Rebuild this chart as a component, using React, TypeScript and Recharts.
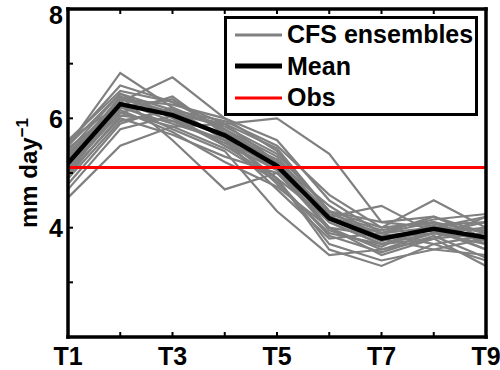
import React from "react";
import { LineChart, Line, XAxis, YAxis, Legend } from "recharts";

const periods = ["T1", "T2", "T3", "T4", "T5", "T6", "T7", "T8", "T9"];

// observed value (flat)
const obs = [5.1, 5.1, 5.1, 5.1, 5.1, 5.1, 5.1, 5.1, 5.1];

// ensemble mean
const mean = [5.18, 6.26, 6.06, 5.69, 5.13, 4.17, 3.8, 3.98, 3.82];

// individual CFS members
const ensembles = [
  [5.5, 6.83, 6.2, 5.8, 5.3, 4.2, 3.9, 4.1, 3.9],
  [5.3, 6.3, 6.75, 6.0, 5.4, 4.3, 3.8, 3.9, 3.7],
  [4.55, 5.5, 5.85, 5.9, 6.0, 5.35, 4.1, 4.0, 3.95],
  [5.6, 6.5, 6.3, 5.9, 5.2, 4.1, 3.7, 3.9, 3.8],
  [5.2, 6.4, 5.6, 4.7, 5.0, 4.0, 3.6, 3.8, 4.2],
  [5.1, 6.1, 6.4, 5.7, 4.8, 3.9, 3.7, 4.0, 3.6],
  [5.4, 6.45, 6.0, 5.5, 5.1, 4.2, 4.4, 3.9, 4.1],
  [5.0, 6.2, 5.9, 5.6, 4.9, 3.6, 3.3, 3.7, 3.4],
  [5.3, 6.35, 6.1, 5.85, 5.35, 4.3, 4.0, 4.5, 4.0],
  [4.8, 5.9, 6.2, 5.6, 4.7, 3.8, 3.9, 4.2, 3.9],
  [5.55, 6.6, 6.3, 5.8, 5.2, 4.4, 3.8, 3.6, 3.5],
  [5.2, 6.25, 5.8, 5.4, 4.3, 3.5, 3.6, 3.9, 4.0],
  [4.9, 5.95, 6.15, 5.95, 5.5, 4.6, 4.0, 4.1, 3.7],
  [5.35, 6.3, 5.95, 5.6, 5.1, 4.0, 3.5, 3.8, 3.3],
  [5.45, 6.2, 6.35, 5.75, 5.2, 4.2, 3.9, 4.0, 4.2],
  [5.0, 6.0, 5.7, 5.3, 5.0, 4.1, 3.7, 3.8, 3.9],
  [5.25, 6.4, 6.1, 5.9, 5.45, 4.3, 4.1, 4.2, 3.8],
  [4.7, 5.8, 6.05, 5.5, 4.9, 3.7, 3.4, 3.6, 3.8],
  [5.5, 6.45, 6.15, 5.65, 4.9, 4.15, 3.75, 4.05, 4.1],
  [5.15, 6.15, 5.75, 5.2, 4.75, 4.0, 3.85, 3.95, 3.6],
  [5.35, 6.35, 6.25, 6.0, 5.6, 4.5, 3.9, 3.7, 3.85],
  [4.95, 6.05, 5.95, 5.55, 5.05, 3.95, 3.65, 4.1, 3.75],
  [5.6, 6.25, 6.05, 5.7, 5.25, 4.25, 3.95, 4.15, 4.25],
  [5.05, 6.1, 5.85, 5.45, 4.85, 3.85, 3.55, 3.85, 3.45],
];

const yTicks = [2, 3, 4, 5, 6, 7, 8];
const yLabelled = [4, 6, 8];

const FONT = "'Liberation Sans', Arial, Helvetica, sans-serif";
const TICK_LEN = 5;

const rows = periods.map((p, i) => {
  const r: any = { period: p, mean: mean[i], obs: obs[i] };
  ensembles.forEach((e, k) => {
    r[`e${k}`] = e[i];
  });
  return r;
});

// MATLAB style: tick marks point into the plot, only some get a label
const BoxTick = (props: any) => {
  const { x, y, payload, index, side } = props;
  let mark;
  let label = null;
  if (side === "bottom") {
    mark = <line x1={x} x2={x} y1={y} y2={y - TICK_LEN} stroke="#000" strokeWidth={2} />;
    if (index % 2 === 0)
      label = (
        <text x={x} y={y + 28} textAnchor="middle" fontSize={25} fontWeight="bold" fontFamily={FONT} fill="#000">
          {payload.value}
        </text>
      );
  } else if (side === "top") {
    mark = <line x1={x} x2={x} y1={y} y2={y + TICK_LEN} stroke="#000" strokeWidth={2} />;
  } else if (side === "left") {
    mark = <line x1={x} x2={x + TICK_LEN} y1={y} y2={y} stroke="#000" strokeWidth={2} />;
    if (yLabelled.includes(payload.value))
      label = (
        // keep the top label inside the page
        <text x={x - 5} y={Math.max(y + 9.5, 24)} textAnchor="end" fontSize={25} fontWeight="bold" fontFamily={FONT} fill="#000">
          {payload.value}
        </text>
      );
  } else {
    mark = <line x1={x} x2={x - TICK_LEN} y1={y} y2={y} stroke="#000" strokeWidth={2} />;
  }
  return (
    <g>
      {mark}
      {label}
    </g>
  );
};

const YTitle = () => (
  <text
    x={37}
    y={173}
    transform="rotate(-90 37 173)"
    textAnchor="middle"
    fontSize={24}
    fontWeight="bold"
    fontFamily={FONT}
    fill="#000"
  >
    mm day
    <tspan dy={-9} fontSize={17}>
      −1
    </tspan>
  </text>
);

const LegendBox = (props: any) => {
  const seen: string[] = [];
  const items = (props.payload || []).filter((it: any) => {
    if (seen.includes(it.value)) return false;
    seen.push(it.value);
    return true;
  });
  const widths: Record<string, number> = { "CFS ensembles": 3, Mean: 5, Obs: 3 };
  return (
    <div
      style={{
        border: "3px solid #000",
        background: "#fff",
        width: 248,
        height: 94,
        boxSizing: "content-box",
        fontFamily: FONT,
        fontWeight: "bold",
        fontSize: 25,
      }}
    >
      {items.map((it: any) => (
        <div key={it.value} style={{ display: "flex", alignItems: "center", height: 31.5 }}>
          <svg width={52} height={10} style={{ marginLeft: 8, flexShrink: 0 }}>
            <line x1={0} x2={47} y1={5} y2={5} stroke={it.color} strokeWidth={widths[it.value] || 3} />
          </svg>
          <span style={{ lineHeight: "25px", whiteSpace: "nowrap" }}>{it.value}</span>
        </div>
      ))}
    </div>
  );
};

export default function App() {
  return (
    <div style={{ position: "absolute", left: 0, top: 0, width: 500, height: 370, background: "#fff" }}>
      <LineChart width={500} height={370} data={rows} margin={{ top: 8, right: 13, bottom: 0, left: 8 }}>
        <XAxis
          dataKey="period"
          interval={0}
          height={33}
          tickSize={0}
          tickMargin={0}
          tickLine={false}
          axisLine={{ stroke: "#000", strokeWidth: 3.5, strokeLinecap: "square" }}
          tick={<BoxTick side="bottom" />}
        />
        <XAxis
          xAxisId="top"
          orientation="top"
          dataKey="period"
          interval={0}
          height={1}
          tickSize={0}
          tickMargin={0}
          tickLine={false}
          axisLine={{ stroke: "#000", strokeWidth: 3.5, strokeLinecap: "square" }}
          tick={<BoxTick side="top" />}
        />
        <YAxis
          domain={[2, 8]}
          ticks={yTicks}
          width={60}
          tickSize={0}
          tickMargin={0}
          tickLine={false}
          axisLine={{ stroke: "#000", strokeWidth: 3.5, strokeLinecap: "square" }}
          tick={<BoxTick side="left" />}
          label={<YTitle />}
        />
        <YAxis
          yAxisId="right"
          orientation="right"
          domain={[2, 8]}
          ticks={yTicks}
          width={1}
          tickSize={0}
          tickMargin={0}
          tickLine={false}
          axisLine={{ stroke: "#000", strokeWidth: 3.5, strokeLinecap: "square" }}
          tick={<BoxTick side="right" />}
        />
        {ensembles.map((_, k) => (
          <Line
            key={k}
            dataKey={`e${k}`}
            name="CFS ensembles"
            stroke="#808080"
            strokeWidth={2.2}
            dot={false}
            activeDot={false}
            type="linear"
            isAnimationActive={false}
          />
        ))}
        <Line
          dataKey="mean"
          name="Mean"
          stroke="#000"
          strokeWidth={4.5}
          dot={false}
          activeDot={false}
          type="linear"
          isAnimationActive={false}
        />
        <Line
          dataKey="obs"
          name="Obs"
          stroke="#ff0000"
          strokeWidth={3}
          dot={false}
          activeDot={false}
          type="linear"
          isAnimationActive={false}
        />
        <Legend
          layout="vertical"
          align="center"
          verticalAlign="middle"
          content={<LegendBox />}
          wrapperStyle={{ position: "absolute", left: 224, top: 16, width: 254, height: 100 }}
        />
      </LineChart>
    </div>
  );
}
